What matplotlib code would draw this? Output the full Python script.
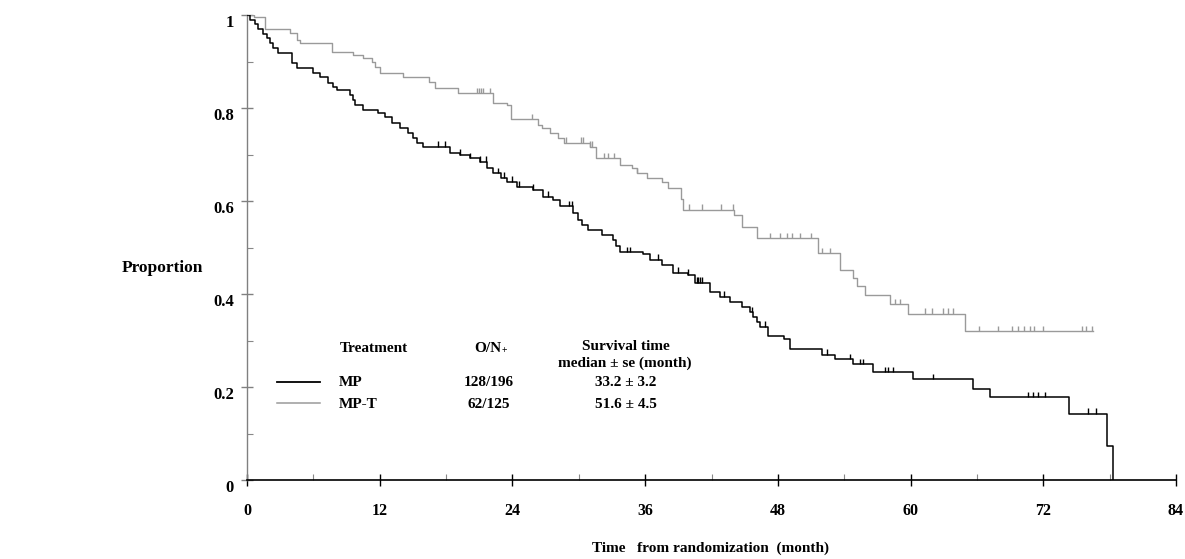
import matplotlib
matplotlib.use("Agg")
import matplotlib.pyplot as plt
import numpy as np
from matplotlib.transforms import ScaledTranslation
from matplotlib.lines import Line2D

# ---------------- data ----------------
mp_t = [0, 0.3, 0.7, 1.0, 1.45, 1.8, 2.1, 2.35, 2.8, 4.1, 4.5, 6.0, 6.6, 7.3, 7.8, 8.1,
        9.3, 9.6, 9.8, 10.5, 11.8, 12.5, 13.1, 13.8, 14.6, 15.0, 15.4, 15.9, 18.4, 19.3,
        20.2, 21.1, 21.7, 22.2, 23.0, 23.5, 24.4, 25.9, 26.8, 27.7, 28.3, 29.5, 29.9,
        30.3, 30.8, 32.1, 33.1, 33.4, 33.7, 35.8, 36.4, 37.5, 38.5, 39.9, 40.5, 41.9, 42.8,
        43.7, 44.8, 45.5, 45.75, 46.1, 46.4, 47.1, 48.6, 49.1, 52.0, 53.2, 54.8, 56.6,
        60.2, 65.6, 67.2, 74.3, 77.8, 78.3]
mp_s = [1.0, 0.99, 0.98, 0.97, 0.96, 0.95, 0.94, 0.93, 0.918, 0.897, 0.886, 0.876, 0.867,
        0.854, 0.846, 0.839, 0.828, 0.817, 0.806, 0.796, 0.789, 0.781, 0.768, 0.757, 0.746,
        0.736, 0.725, 0.716, 0.703, 0.699, 0.692, 0.684, 0.670, 0.660, 0.650, 0.641, 0.630,
        0.624, 0.609, 0.602, 0.589, 0.574, 0.559, 0.548, 0.538, 0.527, 0.516, 0.503, 0.490,
        0.485, 0.473, 0.462, 0.445, 0.441, 0.424, 0.404, 0.394, 0.383, 0.372, 0.361, 0.351,
        0.340, 0.329, 0.310, 0.303, 0.282, 0.269, 0.260, 0.249, 0.232, 0.217, 0.196, 0.178,
        0.142, 0.073, 0.0]
mp_cens = [17.3, 17.9, 19.3, 20.2, 21.1, 21.6, 22.7, 23.2, 24.0, 24.6, 25.9, 27.2, 29.1,
           29.4, 34.4, 34.6, 37.2, 39.0, 39.9, 40.7, 40.8, 41.0, 41.1, 43.1, 45.7, 46.8,
           52.4, 54.5, 55.4, 55.7, 57.7, 58.0, 58.4, 62.0, 70.6, 71.1, 71.5, 72.2, 76.0, 76.8]

mpt_t = [0, 0.6, 1.6, 3.9, 4.5, 4.8, 7.7, 9.6, 10.5, 11.3, 11.6, 12.0, 14.1, 16.5, 17.0,
         19.1, 22.2, 23.5, 23.9, 26.3, 26.7, 27.4, 28.1, 28.7, 31.0, 31.6, 33.7, 34.8, 35.3,
         36.2, 37.5, 38.1, 39.2, 39.4, 44.0, 44.8, 46.1, 51.6, 53.6, 54.8, 55.2, 55.9, 58.1,
         59.8, 64.9, 76.5]
mpt_s = [1.0, 0.995, 0.970, 0.961, 0.946, 0.940, 0.920, 0.914, 0.908, 0.899, 0.888, 0.875,
         0.867, 0.856, 0.843, 0.832, 0.811, 0.806, 0.776, 0.763, 0.757, 0.746, 0.735, 0.725,
         0.716, 0.692, 0.677, 0.671, 0.660, 0.649, 0.641, 0.628, 0.604, 0.581, 0.570, 0.544,
         0.520, 0.488, 0.452, 0.434, 0.417, 0.398, 0.378, 0.357, 0.320, 0.320]
mpt_cens = [20.8, 21.0, 21.2, 21.3, 22.0, 25.8, 28.8, 30.2, 30.4, 31.0, 31.2, 32.3, 32.6,
            33.2, 35.3, 40.0, 41.1, 42.9, 43.9, 47.3, 48.2, 48.8, 49.3, 50.0, 51.0, 52.0,
            52.7, 58.6, 59.0, 61.3, 61.9, 62.9, 63.4, 63.8, 66.2, 67.9, 69.2, 69.7, 70.3,
            70.8, 71.2, 72.0, 75.5, 75.9, 76.4]

groups = ["MP", "MP-T"]
o_n = ["128/196", "62/125"]
medians = ["33.2 \u00b1 3.2", "51.6 \u00b1 4.5"]
xticks = [0, 12, 24, 36, 48, 60, 72, 84]
yticks = [0, 0.2, 0.4, 0.6, 0.8, 1.0]
ytick_labels = ["0", "0.2", "0.4", "0.6", "0.8", "1"]

# ---------------- figure ----------------
W, H = 1185, 559
fig = plt.figure(figsize=(W / 100, H / 100), dpi=100)
ax = fig.add_axes([247 / W, (H - 480) / H, (1176 - 247) / W, (480 - 15) / H])

FONT = "Liberation Serif"
BLACK = "#000000"
GRAY = "#9a9a9a"


def step_val(ts, ss, x):
    idx = np.searchsorted(ts, x, side="right") - 1
    return np.asarray(ss)[idx]


ax.step(mp_t, mp_s, where="post", color=BLACK, lw=1.1, zorder=3)
ax.step(mpt_t, mpt_s, where="post", color=GRAY, lw=1.0, zorder=2)

cy = step_val(mp_t, mp_s, np.array(mp_cens))
ax.vlines(mp_cens, cy, cy + 0.012, color=BLACK, lw=1.0, zorder=3)
cy2 = step_val(mpt_t, mpt_s, np.array(mpt_cens))
ax.vlines(mpt_cens, cy2, cy2 + 0.012, color=GRAY, lw=1.0, zorder=2)

ax.set_xlim(0, 84)
ax.set_ylim(0, 1)
for s in ["top", "right"]:
    ax.spines[s].set_visible(False)
ax.spines["left"].set_color("#808080")
ax.spines["bottom"].set_color(BLACK)
ax.spines["left"].set_linewidth(1.0)
ax.spines["bottom"].set_linewidth(1.2)

ax.set_xticks(xticks)
ax.set_xticks([6, 18, 30, 42, 54, 66, 78], minor=True)
ax.set_yticks(yticks)
ax.set_yticklabels(ytick_labels)
ax.set_yticks([0.1, 0.3, 0.5, 0.7, 0.9], minor=True)
ax.tick_params(axis="x", which="major", direction="inout", length=9, width=1.0,
               color=BLACK, pad=12)
ax.tick_params(axis="x", which="minor", direction="in", length=4, width=0.8, color="#888888")
ax.tick_params(axis="y", which="major", direction="inout", length=9, width=1.0,
               color="#808080", pad=5)
ax.tick_params(axis="y", which="minor", direction="in", length=4, width=0.8, color="#888888")

for lab in ax.get_xticklabels():
    lab.set_fontfamily(FONT)
    lab.set_fontweight("bold")
    lab.set_fontsize(11.5)
for lab in ax.get_yticklabels():
    lab.set_fontfamily(FONT)
    lab.set_fontweight("bold")
    lab.set_fontsize(12)
    lab.set_transform(lab.get_transform() + ScaledTranslation(0, -6 / 100, fig.dpi_scale_trans))


def fx(x):
    return x / W


def fy(y):
    return 1 - y / H


txt = dict(fontfamily=FONT, fontweight="bold", fontsize=11, va="center")
fig.text(fx(162), fy(268), "Proportion", ha="center", **dict(txt, fontsize=12.5))
fig.text(fx(711), fy(548), "Time   from randomization  (month)", ha="center", **txt)

fig.text(fx(340), fy(349), "Treatment", ha="left", **txt)
fig.text(fx(501), fy(349), "O/N", ha="right", **txt)
fig.text(fx(502), fy(351), "+", ha="left", **dict(txt, fontsize=7))
fig.text(fx(626), fy(346), "Survival time", ha="center", **txt)
fig.text(fx(625), fy(363), "median \u00b1 se (month)", ha="center", **txt)

row_y = [383, 404]
line_y = [382, 403]
colors = [BLACK, GRAY]
for i in range(2):
    fig.add_artist(Line2D([fx(277), fx(320)], [fy(line_y[i]), fy(line_y[i])],
                          color=colors[i], lw=1.3 if i == 0 else 1.1))
    fig.text(fx(339), fy(row_y[i]), groups[i], ha="left", **txt)
    fig.text(fx(489), fy(row_y[i]), o_n[i], ha="center", **txt)
    fig.text(fx(626), fy(row_y[i]), medians[i], ha="center", **txt)

fig.savefig("out.png", dpi=100)
